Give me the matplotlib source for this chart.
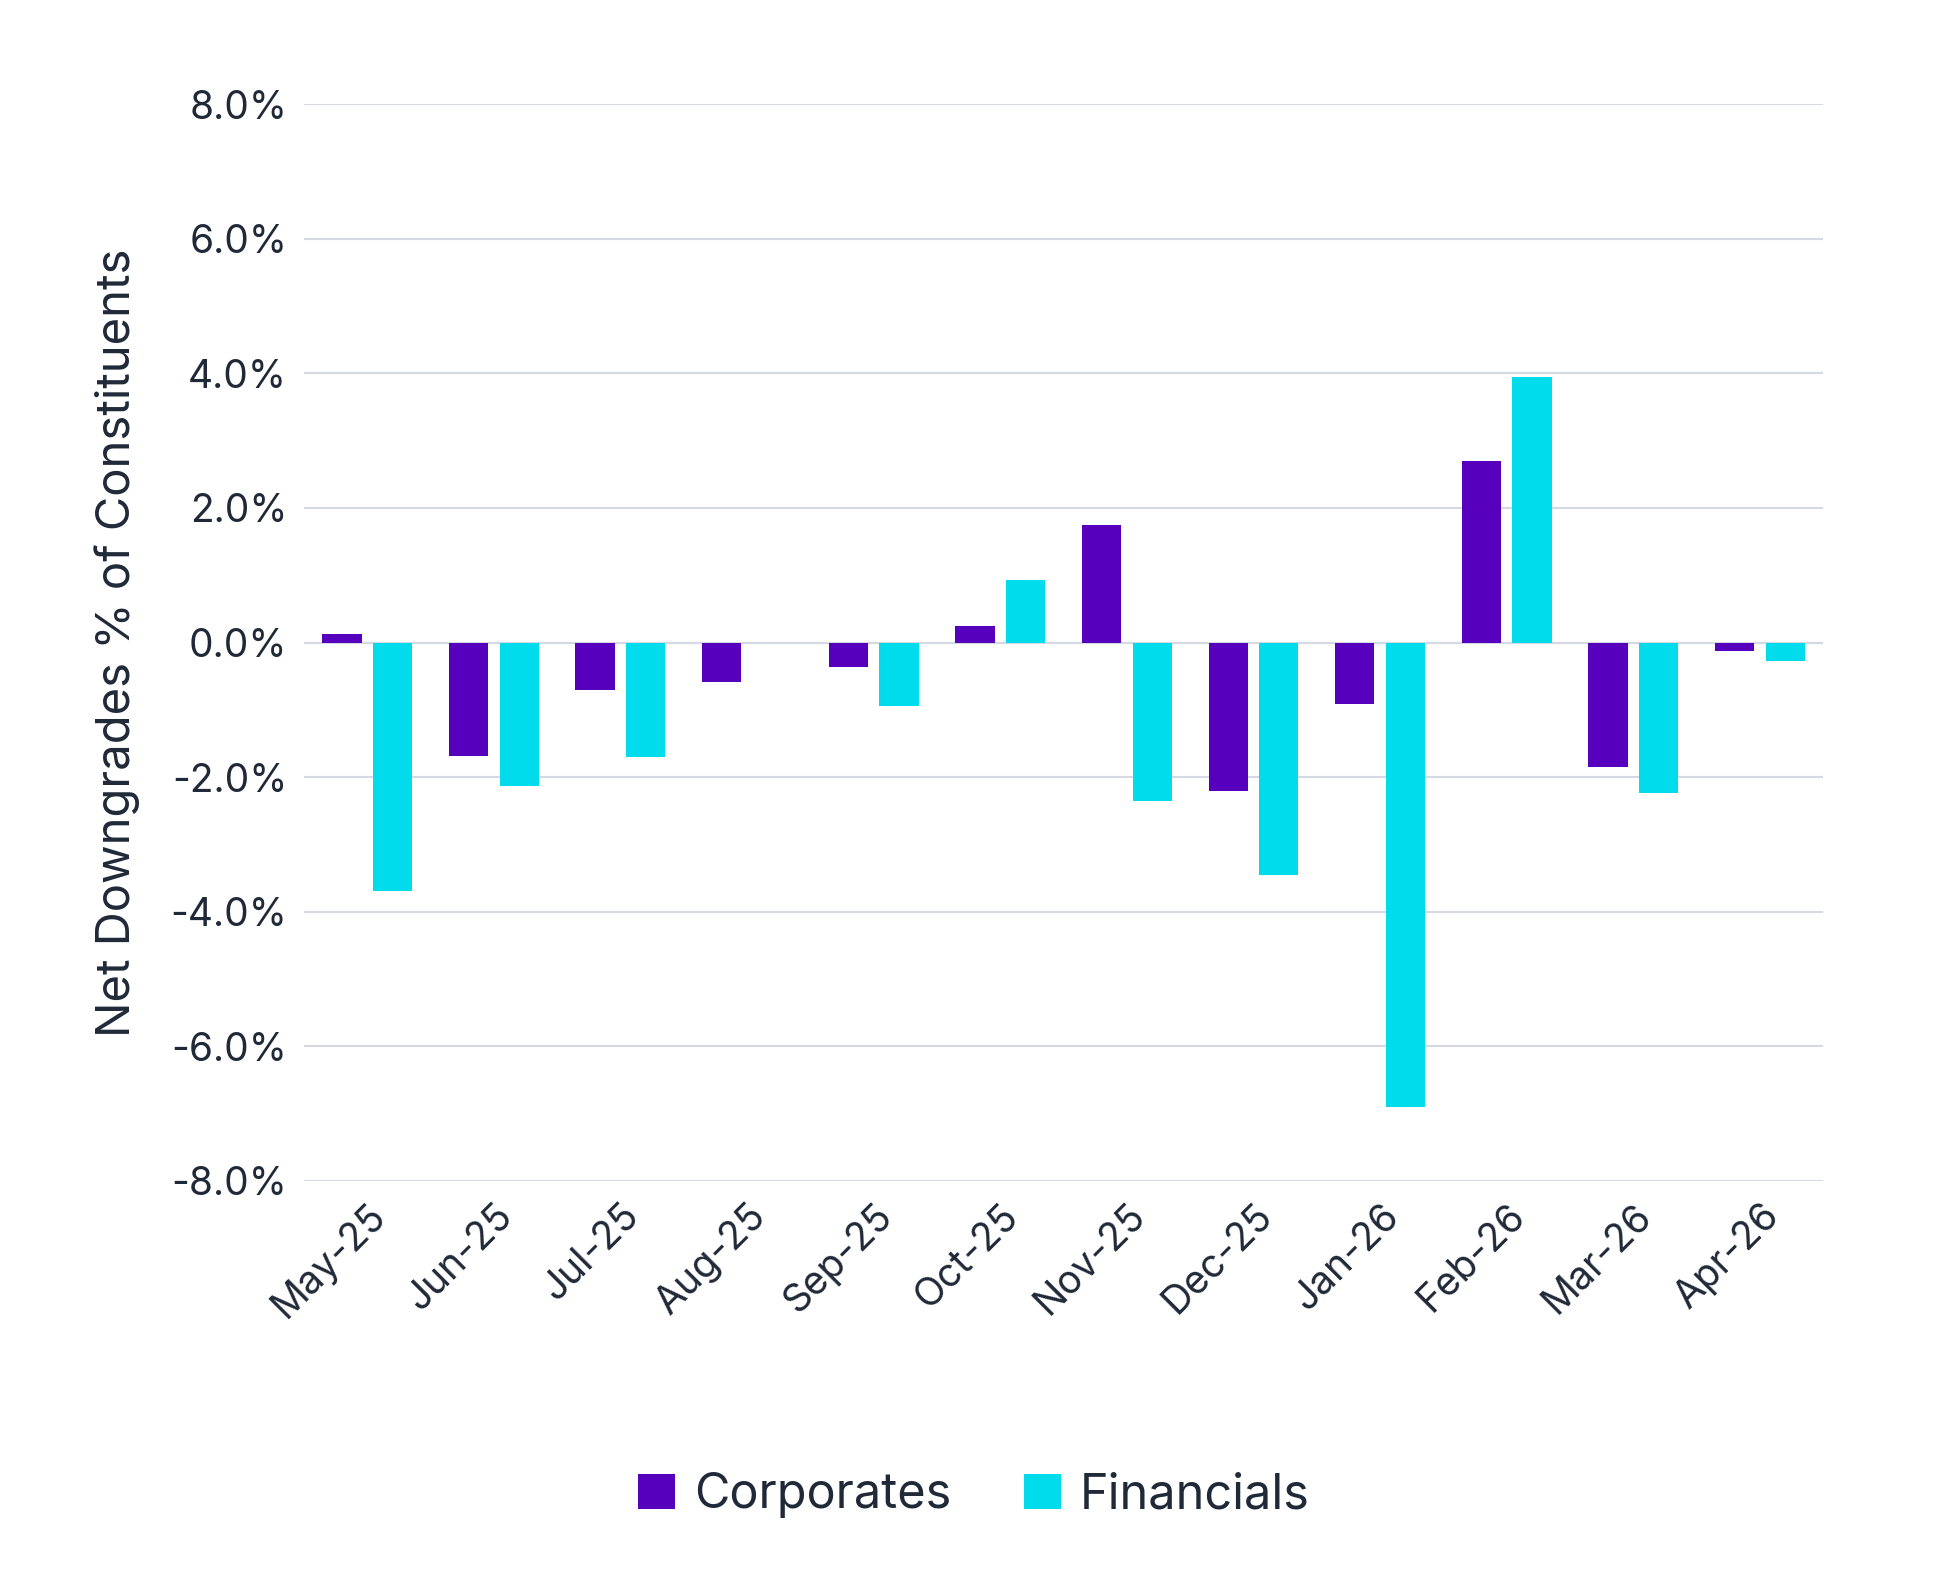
import matplotlib
matplotlib.use("Agg")
import matplotlib.pyplot as plt
import numpy as np
from matplotlib.ticker import FuncFormatter

months = ["May-25","Jun-25","Jul-25","Aug-25","Sep-25","Oct-25","Nov-25","Dec-25","Jan-26","Feb-26","Mar-26","Apr-26"]
corporates = [0.13,-1.68,-0.70,-0.59,-0.37,0.24,1.74,-2.20,-0.91,2.70,-1.85,-0.13]
financials = [-3.70,-2.13,-1.70,0.0,-0.94,0.93,-2.35,-3.46,-6.91,3.94,-2.24,-0.28]

txt = "#1f2937"
plt.rcParams['font.family'] = ['Inter', 'DejaVu Sans']
fig = plt.figure(figsize=(19.48, 15.7), dpi=100)
ax = fig.add_axes([0.156, 0.248, 0.78, 0.6855])
x = np.arange(len(months))
w = 0.31
ax.bar(x - 0.2, corporates, w, color="#5600BE", label="Corporates", zorder=3)
ax.bar(x + 0.2, financials, w, color="#00DCEB", label="Financials", zorder=3)
ax.set_xlim(-0.5, 11.5)
ax.set_ylim(-8, 8)
ax.set_yticks(np.arange(-8, 9, 2))
ax.yaxis.set_major_formatter(FuncFormatter(lambda v, p: f"{v:.1f}%"))
ax.grid(axis='y', color="#d5d9e3", linewidth=1.5, zorder=0)
ax.axhline(0, color="#d5d9e3", linewidth=1.5, zorder=1)
for s in ax.spines.values():
    s.set_visible(False)
ax.tick_params(length=0, labelsize=28, colors=txt, pad=12)
ax.set_xticks(x)
ax.set_xticklabels(months, rotation=45, ha='right', rotation_mode='anchor')
ax.set_ylabel("Net Downgrades % of Constituents", fontsize=34, color=txt, labelpad=22)
fig.legend(loc='lower center', bbox_to_anchor=(0.5, 0.005), ncol=2, frameon=False,
           fontsize=35, handlelength=0.75, handleheight=0.75, columnspacing=1.5,
           handletextpad=0.4, labelcolor=txt, bbox_transform=fig.transFigure)
fig.savefig("out.png", dpi=100)
